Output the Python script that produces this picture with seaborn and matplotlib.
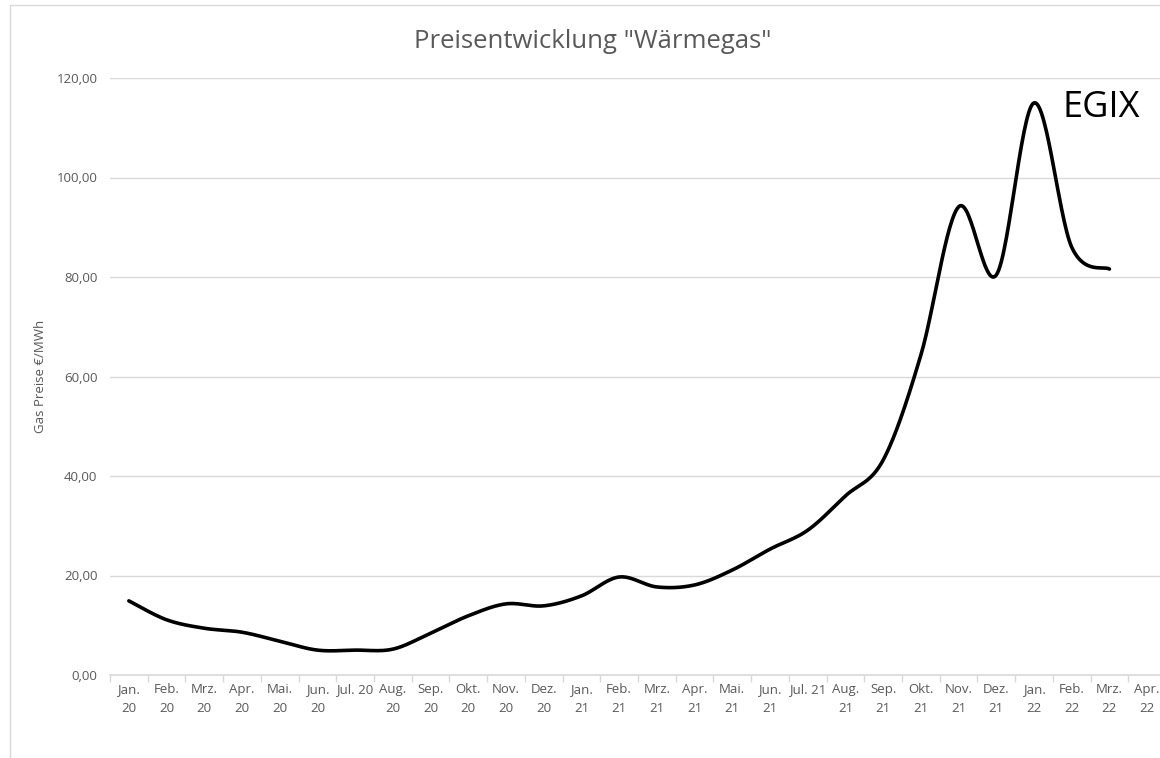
import numpy as np
import pandas as pd
import seaborn as sns
import matplotlib
matplotlib.use("Agg")
import matplotlib.pyplot as plt
from matplotlib.patches import Rectangle
from matplotlib.ticker import FixedLocator, FuncFormatter

# category labels (x axis), one more than there are values
months = ["Jan.\n20", "Feb.\n20", "Mrz.\n20", "Apr.\n20", "Mai.\n20", "Jun.\n20",
          "Jul. 20", "Aug.\n20", "Sep.\n20", "Okt.\n20", "Nov.\n20", "Dez.\n20",
          "Jan.\n21", "Feb.\n21", "Mrz.\n21", "Apr.\n21", "Mai.\n21", "Jun.\n21",
          "Jul. 21", "Aug.\n21", "Sep.\n21", "Okt.\n21", "Nov.\n21", "Dez.\n21",
          "Jan.\n22", "Feb.\n22", "Mrz.\n22", "Apr.\n22"]

# EGIX gas price, EUR/MWh
egix = [14.9, 11.1, 9.4, 8.6, 6.8, 5.0, 5.0, 5.2, 8.4, 11.9, 14.3, 13.9,
        15.9, 19.7, 17.7, 18.1, 21.1, 25.3, 29.1, 36.0, 43.2, 64.3, 94.1, 80.4,
        115.0, 86.0, 81.6]

y_ticks = [0, 20, 40, 60, 80, 100, 120]

GREY = "#595959"
GRID = "#d9d9d9"


def smooth(xs, ys, n=30):
    # excel-style "smoothed line": cubic bezier through every point
    pts = np.column_stack([xs, ys]).astype(float)
    pad = np.vstack([pts[0], pts, pts[-1]])
    segs = []
    for i in range(len(pts) - 1):
        p0, p3 = pts[i], pts[i + 1]
        p1 = p0 + (pad[i + 2] - pad[i]) / 6
        p2 = p3 - (pad[i + 3] - pad[i + 1]) / 6
        t = np.linspace(0, 1, n, endpoint=(i == len(pts) - 2))[:, None]
        segs.append((1 - t) ** 3 * p0 + 3 * (1 - t) ** 2 * t * p1
                    + 3 * (1 - t) * t ** 2 * p2 + t ** 3 * p3)
    return pd.DataFrame(np.vstack(segs), columns=["x", "y"])


sns.set_theme(style="white")
plt.rcParams["font.family"] = ["Open Sans", "DejaVu Sans"]

fig = plt.figure(figsize=(11.6, 7.58), dpi=100)
ax = fig.add_axes([110 / 1160, 1 - 675 / 758, 1056 / 1160, 597 / 758])

curve = smooth(np.arange(len(egix)), egix)
sns.lineplot(data=curve, x="x", y="y", ax=ax, color="black", linewidth=2.6,
             sort=False, estimator=None)

ax.set_xlim(-0.5, len(months) - 0.5)
ax.set_ylim(0, 120)
ax.set_yticks(y_ticks)
ax.yaxis.set_major_formatter(FuncFormatter(lambda v, p: f"{v:.2f}".replace(".", ",")))
ax.yaxis.grid(True, color=GRID, linewidth=1)
ax.tick_params(axis="y", length=0, pad=9, labelsize=9.5, labelcolor=GREY)

ax.set_xticks(range(len(months)))
ax.set_xticklabels(months, linespacing=1.55, va="top")
ax.xaxis.set_minor_locator(FixedLocator(np.arange(-0.5, len(months), 1)))
ax.tick_params(axis="x", which="major", length=0, pad=6, labelsize=9.5, labelcolor=GREY)
ax.tick_params(axis="x", which="minor", bottom=True, length=5, width=1, color=GRID)

for s in ["top", "right", "left"]:
    ax.spines[s].set_visible(False)
ax.spines["bottom"].set_color(GRID)
ax.spines["bottom"].set_linewidth(1.2)

ax.set_xlabel("")
ax.set_ylabel("Gas Preise €/MWh", fontsize=9.5, color=GREY)
ax.yaxis.set_label_coords((47 - 110) / 1056, 0.5)

fig.text(593 / 1160, 1 - 42 / 758, 'Preisentwicklung "Wärmegas"', ha="center",
         va="center", fontsize=18.5, color=GREY)
fig.text(1062 / 1160, 1 - 108 / 758, "EGIX", ha="left", va="center",
         fontsize=26, color="black")

# chart frame
fig.patches.append(Rectangle((10 / 1160, -0.05), 1.2, 1 - 5 / 758 + 0.05,
                             transform=fig.transFigure, fill=False,
                             edgecolor=GRID, linewidth=1))

fig.savefig("out.png", dpi=100)
